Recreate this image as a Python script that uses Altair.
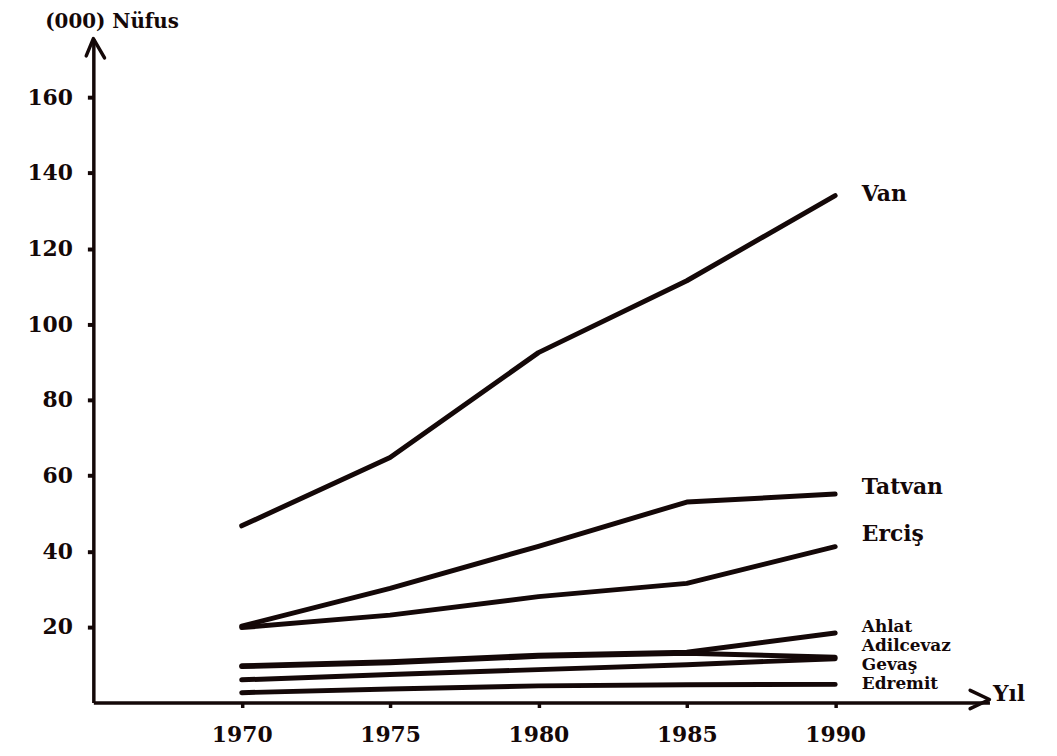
import altair as alt
import pandas as pd

years = [1970, 1975, 1980, 1985, 1990]
van = [46.7, 64.8, 92.5, 111.5, 134.0]
tatvan = [20.2, 30.2, 41.3, 53.0, 55.1]
ercis = [19.8, 23.1, 28.0, 31.5, 41.2]
ahlat = [9.7, 10.8, 12.5, 13.3, 18.4]
adilcevaz = [9.5, 10.5, 12.2, 13.0, 12.0]
gevas = [6.0, 7.4, 8.7, 10.0, 11.6]
edremit = [2.6, 3.6, 4.4, 4.7, 4.8]

series_names = ["Van", "Tatvan", "Erciş", "Ahlat", "Adilcevaz", "Gevaş", "Edremit"]
series_values = [van, tatvan, ercis, ahlat, adilcevaz, gevas, edremit]

upper_label_names = ["Van", "Tatvan", "Erciş"]
upper_label_y = [134.4, 57.0, 44.6]
lower_label_names = ["Ahlat", "Adilcevaz", "Gevaş", "Edremit"]
lower_label_y = [19.9, 14.9, 9.9, 4.9]
label_year = 1990.9

y_ticks = [20, 40, 60, 80, 100, 120, 140, 160]
x_ticks = [1970, 1975, 1980, 1985, 1990]

X_DOMAIN = [1965, 1995.2]
Y_DOMAIN = [0, 175.5]

rows = []
for name, vals in zip(series_names, series_values):
    for yr, v in zip(years, vals):
        rows.append({"series": name, "year": yr, "value": v})
df = pd.DataFrame(rows)

upper_df = pd.DataFrame({"name": upper_label_names,
                         "year": [label_year] * len(upper_label_names),
                         "value": upper_label_y})
lower_df = pd.DataFrame({"name": lower_label_names,
                         "year": [label_year] * len(lower_label_names),
                         "value": lower_label_y})

arrows_y = pd.DataFrame({"year": [X_DOMAIN[0]], "value": [Y_DOMAIN[1]]})
arrows_x = pd.DataFrame({"year": [X_DOMAIN[1]], "value": [0.8]})

FONT = "DejaVu Serif"
INK = "#140808"

x_scale = alt.Scale(domain=X_DOMAIN, nice=False, zero=False)
y_scale = alt.Scale(domain=Y_DOMAIN, nice=False, zero=False)

x_axis = alt.Axis(
    values=x_ticks, format="d", grid=False,
    domain=True, domainColor=INK, domainWidth=3.5,
    ticks=True, tickColor=INK, tickSize=5, tickWidth=3.5,
    labelFont=FONT, labelFontSize=22, labelFontWeight="bold", labelColor=INK,
    labelPadding=17,
    title="Yıl", titleFont=FONT, titleFontSize=22, titleFontWeight="bold",
    titleColor=INK, titleAlign="left", titleBaseline="middle",
    titleX=906, titleY=-9, titleAngle=0,
)
y_axis = alt.Axis(
    values=y_ticks, format="d", grid=False,
    domain=True, domainColor=INK, domainWidth=3.5,
    ticks=True, tickColor=INK, tickSize=6, tickWidth=4,
    labelFont=FONT, labelFontSize=22, labelFontWeight="bold", labelColor=INK,
    labelPadding=15,
    title="(000) Nüfus", titleFont=FONT, titleFontSize=20, titleFontWeight="bold",
    titleColor=INK, titleAlign="left", titleBaseline="middle",
    titleX=-49, titleY=-17, titleAngle=0,
)

lines = alt.Chart(df).mark_line(
    color=INK, strokeWidth=5, strokeCap="round", strokeJoin="round"
).encode(
    x=alt.X("year:Q", scale=x_scale, axis=x_axis),
    y=alt.Y("value:Q", scale=y_scale, axis=y_axis),
    detail="series:N",
)

upper_labels = alt.Chart(upper_df).mark_text(
    align="left", baseline="middle", font=FONT, fontSize=22,
    fontWeight="bold", color=INK,
).encode(
    x=alt.X("year:Q", scale=x_scale),
    y=alt.Y("value:Q", scale=y_scale),
    text="name:N",
)

lower_labels = alt.Chart(lower_df).mark_text(
    align="left", baseline="middle", font=FONT, fontSize=17,
    fontWeight="bold", color=INK,
).encode(
    x=alt.X("year:Q", scale=x_scale),
    y=alt.Y("value:Q", scale=y_scale),
    text="name:N",
)

arrow_up = alt.Chart(arrows_y).mark_point(
    shape="M -0.7 1.7 L 0 0 L 1.1 1.9", filled=False, stroke=INK, opacity=1,
    strokeWidth=3.5, size=420, strokeCap="round", strokeJoin="round",
).encode(
    x=alt.X("year:Q", scale=x_scale),
    y=alt.Y("value:Q", scale=y_scale),
)

arrow_right = alt.Chart(arrows_x).mark_point(
    shape="M -1.9 -0.9 L 0 0 L -1.9 0.9", filled=False, stroke=INK, opacity=1,
    strokeWidth=3.5, size=420, strokeCap="round", strokeJoin="round",
).encode(
    x=alt.X("year:Q", scale=x_scale),
    y=alt.Y("value:Q", scale=y_scale),
)

chart = alt.layer(lines, upper_labels, lower_labels, arrow_up, arrow_right).properties(
    width=903,
    height=669,
    autosize=alt.AutoSizeParams(type="none"),
    padding={"left": 86, "top": 28, "right": 60, "bottom": 50},
    background="white",
).configure_view(stroke=None)

chart.save("out.html", embed_options={"renderer": "svg", "actions": False})
